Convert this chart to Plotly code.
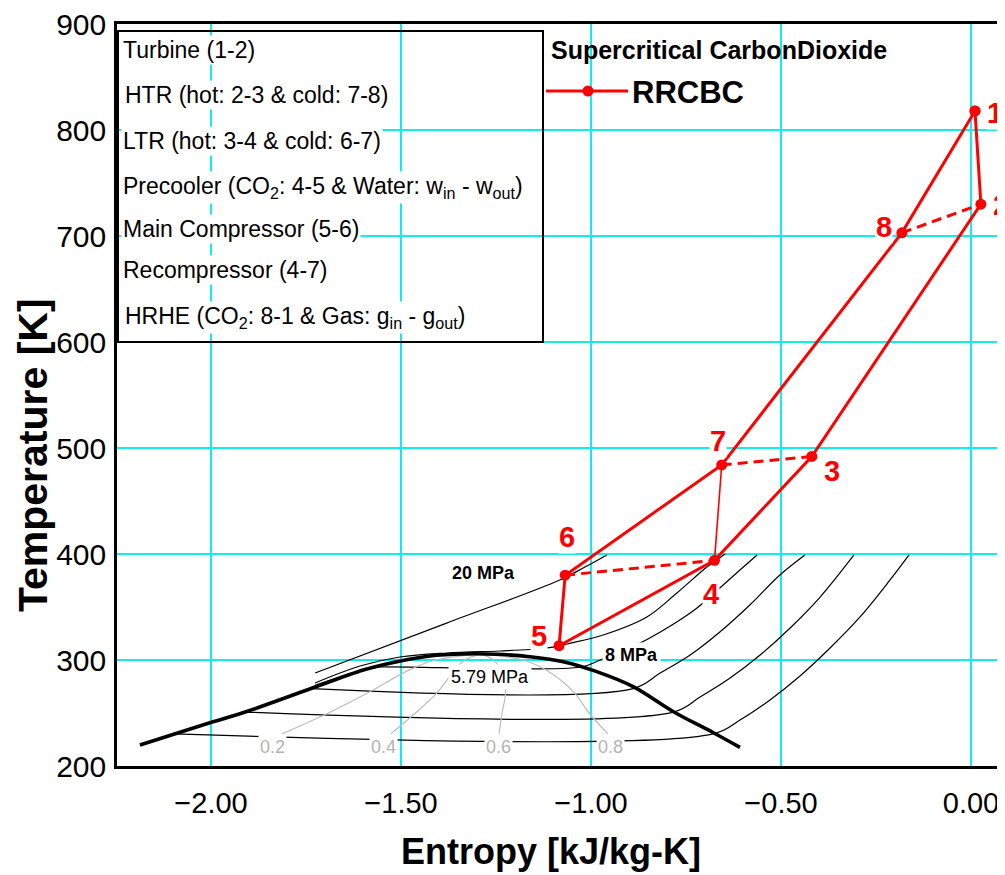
import plotly.graph_objects as go

# ---------------- data ----------------
# cycle state points (entropy kJ/kg-K, temperature K)
state_labels = ["1", "2", "3", "4", "5", "6", "7", "8"]
state_s = [0.0105, 0.026, -0.419, -0.675, -1.084, -1.068, -0.656, -0.182]
state_T = [818.0, 730.0, 492.0, 394.0, 313.5, 380.0, 484.0, 703.0]
# label offsets in pixels (dx, dy) - style only
label_dx = [20, 20, 20, -4, -20, 2, -4, -18]
label_dy = [-2, -1, -15, -34, 10, 38, 24, 6]

# saturation dome
dome_s = [-2.187, -2.003, -1.902, -1.735, -1.599, -1.511, -1.424, -1.336,
          -1.248, -1.161, -1.073, -0.985, -0.889, -0.783, -0.678, -0.608]
dome_T = [219.8, 240.8, 251.9, 273.3, 290.6, 298.4, 303.8, 305.7,
          305.4, 303.1, 298.4, 289.0, 274.8, 251.2, 231.4, 217.6]

# isobars
p20_s = [-1.726, -1.380, -1.082, -1.016, -0.958]
p20_T = [287.7, 334.8, 375.5, 387.7, 399.1]

p8_s = [-1.726, -1.608, -1.503, -1.379, -1.239, -1.161, -1.095, -1.063,
        -0.968, -0.853, -0.774, -0.695, -0.647]
p8_T = [278.3, 294.3, 302.8, 306.6, 308.5, 309.9, 312.3, 315.1,
        323.6, 340.6, 363.2, 387.7, 400.0]

p579_s = [-1.726, -1.650, -1.570, -1.555, -1.026, -0.976, -0.916, -0.855,
          -0.787, -0.721, -0.661, -0.608, -0.563]
p579_T = [276.0, 285.0, 292.5, 293.4, 293.4, 300.0, 308.5, 318.9,
          333.0, 349.1, 367.9, 384.9, 399.1]

pA_s = [-1.737, -0.889, -0.818, -0.739, -0.661, -0.582, -0.503, -0.437]
pA_T = [273.0, 273.0, 287.7, 304.7, 326.4, 351.9, 380.2, 399.1]

pB_s = [-1.910, -0.784, -0.713, -0.634, -0.555, -0.476, -0.397, -0.308]
pB_T = [250.9, 250.9, 265.1, 283.0, 304.7, 330.2, 359.4, 399.1]

pC_s = [-2.098, -0.679, -0.608, -0.529, -0.450, -0.371, -0.292, -0.213, -0.163]
pC_T = [230.3, 230.3, 243.4, 262.3, 284.9, 311.3, 340.6, 375.5, 399.1]

# vapour quality lines
q_T = [230.3, 250.0, 270.0, 290.0, 300.0, 305.6]
q02_s = [-1.813, -1.691, -1.582, -1.482, -1.409, -1.290]
q04_s = [-1.527, -1.462, -1.403, -1.360, -1.332, -1.290]
q06_s = [-1.242, -1.234, -1.225, -1.238, -1.256, -1.290]
q08_s = [-0.956, -1.005, -1.046, -1.116, -1.179, -1.290]
q_labels = ["0.2", "0.4", "0.6", "0.8"]
q_label_s = [-1.838, -1.545, -1.244, -0.950]
q_label_T = 218.2

# pressure labels
p_labels = ["<b>20 MPa</b>", "<b>8 MPa</b>", "5.79 MPa"]
p_label_s = [-1.282, -0.893, -1.266]
p_label_T = [382.4, 304.7, 284.2]

# component legend text
box_lines = [
    "Turbine (1-2)",
    "HTR (hot: 2-3 & cold: 7-8)",
    "LTR (hot: 3-4 & cold: 6-7)",
    "Precooler (CO<sub>2</sub>: 4-5 & Water: w<sub>in</sub> - w<sub>out</sub>)",
    "Main Compressor (5-6)",
    "Recompressor (4-7)",
    "HRHE (CO<sub>2</sub>: 8-1 & Gas: g<sub>in</sub> - g<sub>out</sub>)",
]
box_line_py = [50, 95, 141, 187, 229, 270, 317]
box_line_px = [121, 123, 121, 121, 121, 121, 123]

series_title = "Supercritical CarbonDioxide"
series_name = "RRCBC"

x_ticks = [-2.0, -1.5, -1.0, -0.5, 0.0]
x_ticklabels = ["\u22122.00", "\u22121.50", "\u22121.00", "\u22120.50", "0.00"]
y_ticks = [200, 300, 400, 500, 600, 700, 800, 900]
x_title = "Entropy [kJ/kg-K]"
y_title = "Temperature [K]"

# ---------------- figure ----------------
FONT = "Liberation Sans, Arial, sans-serif"
RED = "#ff0000"
GRID = "rgb(20,236,236)"
OFF = 8                      # page body margin
W, H = 1005 - OFF, 875 - OFF
ML, MR, MT, MB = 117 - OFF, 0, 24 - OFF, H - (766 - OFF)
PW, PH = W - ML - MR, H - MT - MB


def px2paper_x(px):          # page pixel -> paper fraction
    return (px - OFF - ML) / PW


def px2paper_y(py):
    return (H - MB - (py - OFF)) / PH


fig = go.Figure()

iso_line = dict(color="black", width=1.2)
for xs, ys in [(p20_s, p20_T), (p8_s, p8_T), (p579_s, p579_T),
               (pA_s, pA_T), (pB_s, pB_T), (pC_s, pC_T)]:
    fig.add_trace(go.Scatter(x=xs, y=ys, mode="lines", line=iso_line, line_shape="spline",
                             showlegend=False, hoverinfo="skip"))

for xs in [q02_s, q04_s, q06_s, q08_s]:
    fig.add_trace(go.Scatter(x=xs, y=q_T, mode="lines", line=dict(color="#bdbdbd", width=1.2),
                             showlegend=False, hoverinfo="skip", line_shape="spline"))

fig.add_trace(go.Scatter(x=dome_s, y=dome_T, mode="lines", line=dict(color="black", width=3.6),
                         line_shape="spline", showlegend=False, hoverinfo="skip"))

# main cycle loop 1-2-3-4-5-6-7-8-1
order = [1, 2, 3, 4, 5, 6, 7, 8, 1]
fig.add_trace(go.Scatter(
    x=[state_s[i - 1] for i in order], y=[state_T[i - 1] for i in order],
    mode="lines+markers", name=series_name, showlegend=False,
    line=dict(color=RED, width=3), marker=dict(color=RED, size=11),
))
# recompressor 4-7
fig.add_trace(go.Scatter(
    x=[state_s[3], state_s[6]], y=[state_T[3], state_T[6]], mode="lines",
    line=dict(color=RED, width=1.6), showlegend=False, hoverinfo="skip"))
# dashed connections 8-2, 7-3, 6-4
dx, dy = [], []
for a, b in [(8, 2), (7, 3), (6, 4)]:
    dx += [state_s[a - 1], state_s[b - 1], None]
    dy += [state_T[a - 1], state_T[b - 1], None]
fig.add_trace(go.Scatter(x=dx, y=dy, mode="lines", line=dict(color=RED, width=3, dash="10px,6px"),
                         showlegend=False, hoverinfo="skip"))

annotations = []
for lab, s, t, ox, oy in zip(state_labels, state_s, state_T, label_dx, label_dy):
    annotations.append(dict(x=s, y=t, xref="x", yref="y", text=f"<b>{lab}</b>", showarrow=False,
                            xshift=ox, yshift=oy, font=dict(family=FONT, size=29, color=RED),
                            bgcolor="white", borderpad=0))
for lab, s in zip(q_labels, q_label_s):
    annotations.append(dict(x=s, y=q_label_T, xref="x", yref="y", text=lab, showarrow=False,
                            font=dict(family=FONT, size=18, color="#b4b4b4"), bgcolor="white", borderpad=1))
for lab, s, t in zip(p_labels, p_label_s, p_label_T):
    annotations.append(dict(x=s, y=t, xref="x", yref="y", text=lab, showarrow=False,
                            font=dict(family=FONT, size=18, color="black"), bgcolor="white", borderpad=2))
for txt, py, px in zip(box_lines, box_line_py, box_line_px):
    annotations.append(dict(x=px2paper_x(px), y=px2paper_y(py), xref="paper", yref="paper",
                            text=txt, showarrow=False, xanchor="left", yanchor="middle",
                            font=dict(family=FONT, size=23, color="black"), bgcolor="white", borderpad=1))
# series legend (title + entry)
annotations.append(dict(x=px2paper_x(549), y=px2paper_y(50), xref="paper", yref="paper",
                        text=f"<b>{series_title}</b>", showarrow=False, xanchor="left", yanchor="middle",
                        font=dict(family=FONT, size=25, color="black")))
annotations.append(dict(x=px2paper_x(630), y=px2paper_y(92), xref="paper", yref="paper",
                        text=f"<b>{series_name}</b>", showarrow=False, xanchor="left", yanchor="middle",
                        font=dict(family=FONT, size=31, color="black")))
# axis titles
annotations.append(dict(x=px2paper_x(551), y=px2paper_y(851), xref="paper", yref="paper",
                        text=f"<b>{x_title}</b>", showarrow=False, xanchor="center", yanchor="middle",
                        font=dict(family=FONT, size=36, color="black")))
annotations.append(dict(x=px2paper_x(33), y=px2paper_y(455), xref="paper", yref="paper",
                        text=f"<b>{y_title}</b>", showarrow=False, xanchor="center", yanchor="middle",
                        textangle=-90, font=dict(family=FONT, size=41, color="black")))

shapes = [
    dict(type="rect", xref="paper", yref="paper",
         x0=px2paper_x(118), x1=px2paper_x(543), y0=px2paper_y(342), y1=px2paper_y(31),
         line=dict(color="black", width=2), fillcolor="rgba(0,0,0,0)", layer="above"),
    dict(type="line", xref="paper", yref="paper",
         x0=px2paper_x(546), x1=px2paper_x(628), y0=px2paper_y(91), y1=px2paper_y(91),
         line=dict(color=RED, width=3), layer="above"),
    dict(type="circle", xref="paper", yref="paper",
         x0=px2paper_x(582.5), x1=px2paper_x(593.5), y0=px2paper_y(96.5), y1=px2paper_y(85.5),
         line=dict(color=RED, width=0), fillcolor=RED, layer="above"),
]

fig.update_layout(
    width=W, height=H,
    margin=dict(l=ML, r=MR, t=MT, b=MB, autoexpand=False),
    paper_bgcolor="white", plot_bgcolor="white",
    font=dict(family=FONT, color="black"),
    annotations=annotations, shapes=shapes,
    showlegend=False,
)
fig.update_xaxes(range=[-2.0 - (211 - 117) / 380, -2.0 - (211 - 117) / 380 + PW / 380],
                 tickvals=x_ticks, ticktext=x_ticklabels, automargin=False,
                 tickfont=dict(size=29, family=FONT), ticks="", ticklabelstandoff=9,
                 ticklabeloverflow="allow",
                 showgrid=True, gridcolor=GRID, gridwidth=1.5, zeroline=False,
                 showline=True, linecolor="black", linewidth=2.5, mirror=True)
fig.update_yaxes(range=[200, 900], tickvals=y_ticks, automargin=False,
                 tickfont=dict(size=30, family=FONT), ticks="", ticklabelstandoff=2,
                 ticklabeloverflow="allow",
                 showgrid=True, gridcolor=GRID, gridwidth=1.5, zeroline=False,
                 showline=True, linecolor="black", linewidth=2.5)

fig.write_html("out.html")
